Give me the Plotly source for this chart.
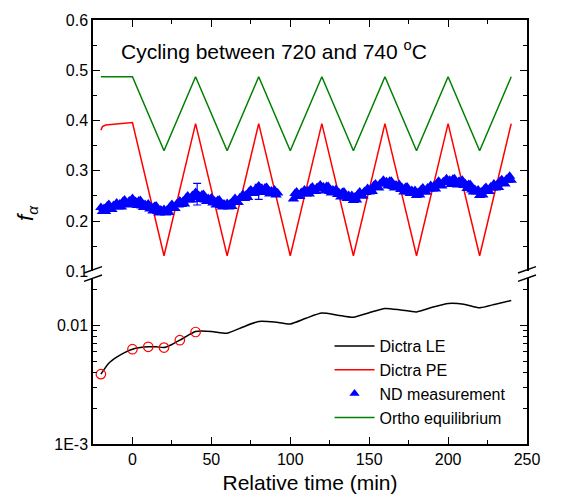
import plotly.graph_objects as go

# ---------------- data ----------------
ortho_x = [-20, 0, 20, 40, 60, 80, 100, 120, 140, 160, 180, 200, 220, 240]
ortho_y = [0.487, 0.487, 0.340, 0.487, 0.340, 0.487, 0.340, 0.487, 0.340, 0.487, 0.340, 0.487, 0.340, 0.487]

pe_x = [-20, -19, -17, -10, 0, 20, 40, 60, 80, 100, 120, 140, 160, 180, 200, 220, 240]
pe_y = [0.381, 0.388, 0.391, 0.393, 0.396, 0.131, 0.394, 0.131, 0.394, 0.131, 0.394, 0.131, 0.394, 0.131, 0.394, 0.131, 0.394]

nd_x1 = list(range(-20, 93))
nd_y1 = [
    0.227, 0.219, 0.225, 0.219, 0.230, 0.233, 0.224, 0.223, 0.231, 0.229,
    0.236, 0.228, 0.234, 0.228, 0.239, 0.242, 0.233, 0.232, 0.240, 0.238,
    0.245, 0.235, 0.239, 0.231, 0.240, 0.241, 0.230, 0.227, 0.233, 0.229,
    0.234, 0.224, 0.228, 0.220, 0.229, 0.230, 0.219, 0.216, 0.222, 0.218,
    0.223, 0.216, 0.222, 0.217, 0.229, 0.233, 0.225, 0.225, 0.234, 0.232,
    0.240, 0.233, 0.239, 0.234, 0.246, 0.250, 0.242, 0.242, 0.251, 0.249,
    0.257, 0.247, 0.251, 0.243, 0.252, 0.253, 0.242, 0.239, 0.245, 0.241,
    0.246, 0.236, 0.240, 0.232, 0.241, 0.242, 0.231, 0.228, 0.234, 0.230,
    0.235, 0.228, 0.235, 0.229, 0.241, 0.245, 0.238, 0.237, 0.246, 0.245,
    0.253, 0.245, 0.252, 0.247, 0.259, 0.262, 0.255, 0.255, 0.264, 0.262,
    0.270, 0.260, 0.264, 0.257, 0.266, 0.267, 0.257, 0.254, 0.260, 0.257,
    0.262, 0.252, 0.256,
]
nd_x2 = list(range(102, 241))
nd_y2 = [
    0.244, 0.255, 0.258, 0.250, 0.249, 0.257, 0.255, 0.262,
    0.254, 0.260, 0.254, 0.265, 0.268, 0.260, 0.259, 0.267, 0.265, 0.272,
    0.264, 0.268, 0.260, 0.269, 0.269, 0.259, 0.256, 0.262, 0.258, 0.263,
    0.253, 0.256, 0.248, 0.257, 0.258, 0.248, 0.245, 0.251, 0.246, 0.251,
    0.241, 0.248, 0.242, 0.254, 0.258, 0.250, 0.250, 0.259, 0.257, 0.265,
    0.258, 0.264, 0.259, 0.271, 0.274, 0.267, 0.266, 0.275, 0.274, 0.281,
    0.274, 0.278, 0.270, 0.279, 0.279, 0.269, 0.266, 0.272, 0.268, 0.273,
    0.263, 0.266, 0.258, 0.267, 0.268, 0.258, 0.255, 0.261, 0.256, 0.261,
    0.251, 0.257, 0.252, 0.263, 0.266, 0.258, 0.258, 0.266, 0.264, 0.271,
    0.264, 0.270, 0.264, 0.275, 0.279, 0.271, 0.270, 0.278, 0.277, 0.284,
    0.276, 0.281, 0.273, 0.283, 0.284, 0.275, 0.272, 0.279, 0.275, 0.281,
    0.271, 0.274, 0.265, 0.273, 0.273, 0.262, 0.258, 0.263, 0.258, 0.262,
    0.251, 0.258, 0.252, 0.264, 0.267, 0.260, 0.259, 0.268, 0.266, 0.274,
    0.266, 0.273, 0.267, 0.279, 0.282, 0.275, 0.274, 0.283, 0.281, 0.289, 0.281,
]
nd_x = nd_x1 + [None] + nd_x2
nd_y = nd_y1 + [None] + nd_y2

err_x = [41, 80]
err_y = [0.2535, 0.258]
err_v = [0.0215, 0.015]

le_x = [-20, -15, -10, -5, 0, 5, 10, 15, 20, 25, 30, 35, 40, 50, 60, 70, 80, 90,
        100, 110, 120, 130, 140, 150, 160, 170, 180, 190, 200, 210, 220, 230, 240]
le_y = [0.00388, 0.0048, 0.0054, 0.0059, 0.0063, 0.0065, 0.0066, 0.0066, 0.0065, 0.0069,
        0.0075, 0.0082, 0.0089, 0.0089, 0.0086, 0.0097, 0.0108, 0.0107,
        0.0103, 0.0115, 0.0127, 0.0122, 0.0117, 0.0128, 0.0139, 0.0135, 0.0130,
        0.0142, 0.0153, 0.0151, 0.0141, 0.0151, 0.0162]

circ_x = [-20, 0, 10, 20, 30, 40]
circ_y = [0.00388, 0.0063, 0.0066, 0.0065, 0.0075, 0.0088]

x_range = [-25, 250]
upper_range = [0.1, 0.6]
lower_log_range = [-3, -1.6]
lower_tickvals = [0.001, 0.01]
lower_ticktext = ["1E-3", "0.01"]
lower_minor = [0.002, 0.003, 0.004, 0.005, 0.006, 0.007, 0.008, 0.009, 0.02]

FONT = "Liberation Sans, Arial, sans-serif"

fig = go.Figure()

fig.add_trace(go.Scatter(x=ortho_x, y=ortho_y, mode="lines", line=dict(color="#008000", width=1.5),
                         name="Ortho equilibrium", xaxis="x2", yaxis="y2", legendrank=4))
fig.add_trace(go.Scatter(x=pe_x, y=pe_y, mode="lines", line=dict(color="#FF0000", width=1.5),
                         name="Dictra PE", xaxis="x2", yaxis="y2", legendrank=2))
fig.add_trace(go.Scatter(x=nd_x, y=nd_y, mode="markers",
                         marker=dict(symbol="triangle-up", size=10, color="#0000FF"),
                         name="ND measurement", xaxis="x2", yaxis="y2", showlegend=False))
fig.add_trace(go.Scatter(x=err_x, y=err_y, mode="markers",
                         marker=dict(symbol="triangle-up", size=10, color="#0000FF"),
                         error_y=dict(type="data", array=err_v, color="#0000FF", thickness=1.2, width=4),
                         xaxis="x2", yaxis="y2", showlegend=False))
fig.add_trace(go.Scatter(x=[None], y=[None], mode="markers",
                         marker=dict(symbol="triangle-up", size=9, color="#0000FF"),
                         name="ND measurement", xaxis="x2", yaxis="y2", legendrank=3))
fig.add_trace(go.Scatter(x=le_x, y=le_y, mode="lines", line=dict(color="black", width=1.5, shape="spline", smoothing=0.6),
                         name="Dictra LE", xaxis="x", yaxis="y", legendrank=1))
fig.add_trace(go.Scatter(x=circ_x, y=circ_y, mode="markers",
                         marker=dict(symbol="circle-open", size=9.5, color="#FF0000", line=dict(width=1.2)),
                         xaxis="x", yaxis="y", showlegend=False))

axis_common = dict(showline=True, linecolor="black", linewidth=1.5, ticks="inside",
                   tickcolor="black", tickwidth=1.2, showgrid=False, zeroline=False)

fig.update_layout(
    width=563, height=504,
    margin=dict(l=93, r=36, t=15, b=60),
    paper_bgcolor="white", plot_bgcolor="rgba(0,0,0,0)",
    font=dict(family=FONT, size=16, color="black"),
    xaxis=dict(domain=[0, 1], anchor="y", range=x_range, dtick=50, tick0=0, ticklen=7,
               minor=dict(dtick=25, tick0=0, ticks="inside", ticklen=4, tickcolor="black", showgrid=False),
               title=dict(text="Relative time (min)", font=dict(size=21), standoff=8),
               tickfont=dict(size=16), **axis_common),
    xaxis2=dict(domain=[0, 1], anchor="y2", matches="x", range=x_range, side="top", dtick=50, tick0=0,
                ticklen=7, showticklabels=False,
                minor=dict(dtick=25, tick0=0, ticks="inside", ticklen=4, tickcolor="black", showgrid=False),
                **axis_common),
    yaxis=dict(domain=[0, 0.3916], anchor="x", type="log", range=lower_log_range,
               tickmode="array", tickvals=lower_tickvals, ticktext=lower_ticktext, ticklen=7,
               minor=dict(tickmode="array", tickvals=lower_minor, ticks="inside", ticklen=4,
                          tickcolor="black", showgrid=False),
               mirror="allticks", tickfont=dict(size=16), **axis_common),
    yaxis2=dict(domain=[0.4072, 1], anchor="x2", range=upper_range, dtick=0.1, tick0=0,
                tickformat=".1f", ticklen=7,
                minor=dict(dtick=0.05, tick0=0, ticks="inside", ticklen=4, tickcolor="black", showgrid=False),
                mirror="allticks", tickfont=dict(size=16), **axis_common),
    legend=dict(x=0.545, y=0.271, xanchor="left", yanchor="top", bgcolor="rgba(0,0,0,0)",
                font=dict(size=16), tracegroupgap=0, itemwidth=40),
    showlegend=True,
)

fig.add_annotation(text="Cycling between 720 and 740 <sup>o</sup>C", xref="paper", yref="paper",
                   x=0.06, y=0.930, xanchor="left", yanchor="middle", showarrow=False,
                   font=dict(size=21))
fig.add_annotation(text="<i>f</i><sub><i>α</i></sub>", xref="paper", yref="paper",
                   x=-0.152, y=0.545, xanchor="center", yanchor="middle", textangle=-90,
                   showarrow=False, font=dict(size=22))

# axis-break marks (paper coordinates derived from the plot-area pixel geometry)
W, H = 434.0, 429.0
def px(xp):
    return xp / W
def py(yp):
    return (444.0 - yp) / H
for xc in (0.0, 434.0):
    for (y1, y2) in ((271.0, 264.5), (279.5, 273.0)):
        fig.add_shape(type="line", xref="paper", yref="paper",
                      x0=px(xc - 9), y0=py(y1), x1=px(xc + 9), y1=py(y2),
                      line=dict(color="black", width=1.5))

fig.write_html("out.html", config={"displayModeBar": False},
               post_script="document.body.style.margin='0px';document.body.style.overflow='hidden';")
